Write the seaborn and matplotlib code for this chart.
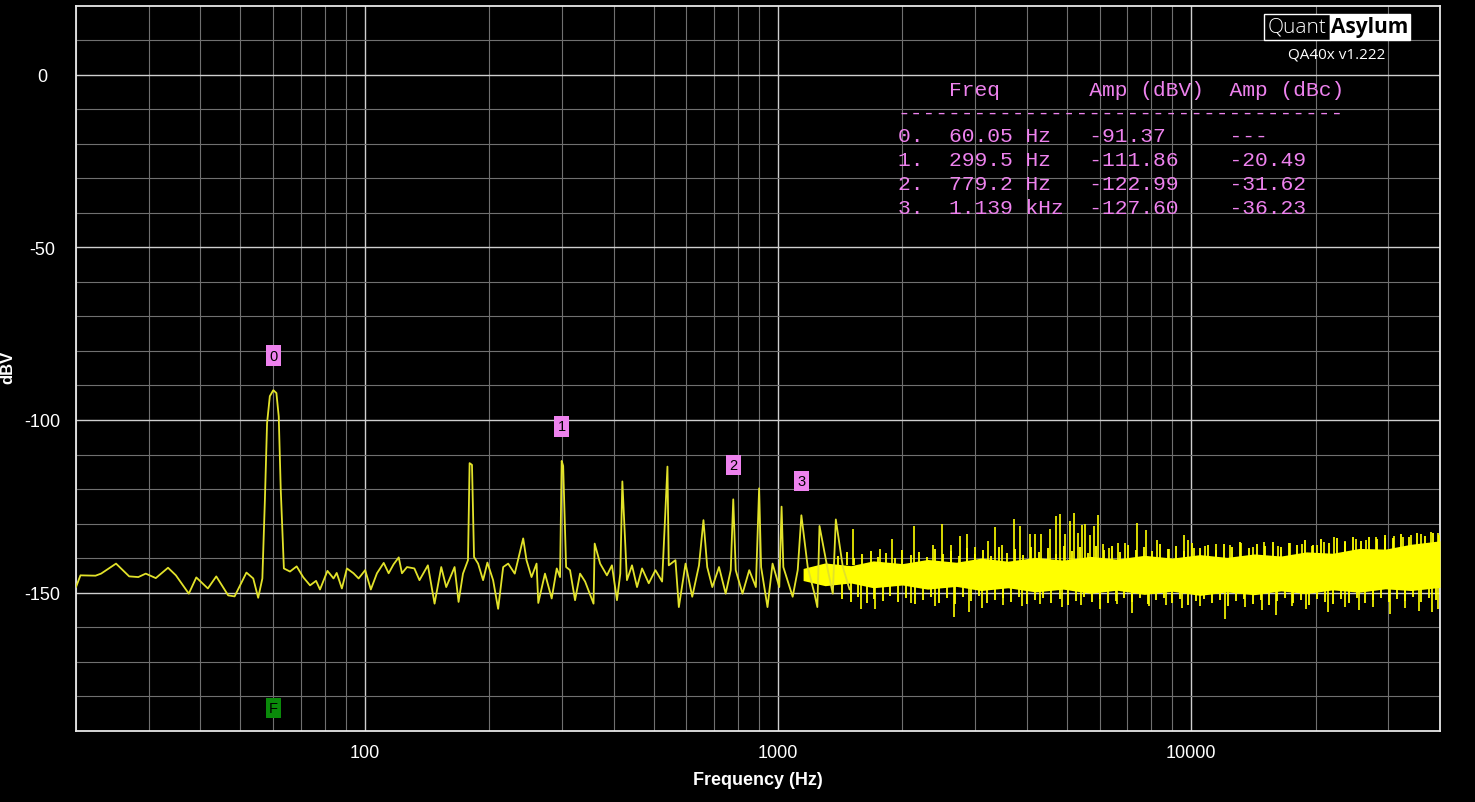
import matplotlib
matplotlib.use('Agg')
import matplotlib.pyplot as plt
from matplotlib.patches import Rectangle
import seaborn as sns

# ---- spectrum trace (Hz, dBV) ----
trace_freq = [20.0, 20.5, 22.3, 23.0, 25.0, 26.9, 28.3, 29.5, 31.2, 33.4, 34.9,
              37.5, 39.1, 41.7, 43.7, 46.7, 48.4, 51.7, 53.7, 55.2, 56.5, 57.3,
              58.0, 58.9, 60.05, 61.1, 61.9, 62.6, 63.7, 65.9, 68.4, 71.0, 73.7,
              76.2, 77.9, 81.2, 84.0, 85.5, 88.0, 90.5, 93.9, 96.6, 100.2, 103.4,
              107.0, 111.1, 114.2, 117.4, 120.8, 123.0, 126.5, 131.8, 135.6,
              142.1, 147.5, 153.1, 157.4, 164.9, 168.6, 172.8, 177.7, 179.3,
              181.7, 183.8, 188.0, 193.3, 198.0, 204.4, 210.2, 216.2, 222.3,
              230.6, 241.7, 246.2, 253.2, 260.4, 262.9, 272.9, 283.3, 291.4,
              296.8, 299.5, 302.0, 307.0, 313.8, 322.7, 331.8, 341.3, 357.7,
              360.0, 371.1, 385.4, 396.3, 407.6, 415.2, 420.0, 430.9, 443.2,
              455.8, 468.8, 486.6, 505.0, 524.2, 540.0, 544.0, 564.6, 575.4,
              597.3, 620.0, 643.8, 660.0, 674.0, 693.4, 719.8, 747.0, 768.4,
              779.2, 790.0, 820.4, 851.8, 883.8, 900.0, 910.0, 943.0, 970.0,
              1007.0, 1020.0, 1030.0, 1085.0, 1116.0, 1139.0, 1180.0, 1225.0,
              1245.0, 1260.0, 1320.0, 1357.0, 1380.0, 1435.0, 1490.0]
trace_db = [-148.4, -145.0, -145.1, -144.5, -141.6, -145.3, -145.5, -144.5, -145.8,
            -142.8, -145.0, -150.3, -145.6, -148.8, -145.3, -150.8, -151.1, -144.2,
            -145.9, -151.5, -145.9, -123.2, -100.9, -93.1, -91.37, -92.2, -99.0,
            -120.3, -143.0, -143.9, -142.4, -145.6, -147.9, -146.6, -149.1, -143.7,
            -145.9, -144.3, -148.8, -143.0, -144.4, -145.9, -143.5, -149.1, -144.4,
            -141.4, -144.4, -141.8, -139.8, -144.4, -142.6, -143.0, -146.4, -142.1,
            -153.2, -142.6, -148.4, -142.6, -152.7, -144.5, -140.6, -112.5, -113.0,
            -139.7, -141.6, -146.4, -141.3, -146.4, -154.7, -142.6, -141.6, -144.5,
            -134.3, -140.6, -145.5, -141.6, -153.0, -144.5, -151.7, -143.0, -145.5,
            -111.86, -113.3, -142.6, -143.5, -152.2, -144.5, -146.8, -153.2, -135.8,
            -141.6, -145.0, -142.1, -152.2, -144.5, -117.8, -146.4, -142.1, -148.4,
            -143.0, -147.3, -143.5, -146.8, -113.5, -142.1, -140.6, -154.2, -141.6,
            -151.2, -142.1, -129.0, -142.6, -148.4, -142.6, -150.3, -143.5, -122.99,
            -143.5, -150.3, -143.5, -148.4, -119.8, -142.6, -154.2, -141.6, -148.4,
            -125.1, -142.6, -151.2, -143.5, -127.6, -142.6, -150.3, -154.2, -130.7,
            -143.5, -150.3, -128.8, -142.6, -149.1]

# dense noise floor above ~1 kHz: solid core (lower / upper edge)
band_freq = [1150, 1300, 1500, 1700, 2000, 2300, 2700, 3100, 3600, 4200, 4900,
             5700, 6600, 7700, 9000, 10500, 12200, 14200, 16500, 19000, 22000,
             25500, 29500, 34000, 40000]
band_hi = [-143.0, -141.4, -142.2, -140.8, -141.6, -140.4, -141.2, -140.0, -140.9,
           -139.8, -140.6, -139.5, -140.3, -139.2, -140.0, -139.0, -139.8, -138.8,
           -139.4, -138.2, -138.6, -137.2, -137.4, -136.0, -135.0]
band_lo = [-146.5, -148.0, -147.2, -148.6, -147.8, -149.0, -148.2, -149.4, -148.6,
           -149.8, -149.0, -150.2, -149.3, -150.5, -149.6, -150.8, -149.8, -150.6,
           -149.5, -150.3, -149.2, -149.9, -148.9, -149.4, -148.5]

# ragged top of the noise floor
fuzz_up_freq = [1400, 1465, 1530, 1600, 1675, 1750, 1830, 1915, 2000, 2095, 2190,
                2290, 2395, 2505, 2620, 2740, 2865, 3000, 3135, 3280, 3430, 3585,
                3750, 3925, 4100, 4290, 4490, 4695, 4910, 5135, 5370, 5615, 5875,
                6140, 6425, 6720, 7025, 7350, 7685, 8040, 8405, 8790, 9195, 9615,
                10055, 10515, 11000, 11500, 12030, 12580, 13155, 13760, 14390,
                15050, 15740, 16460, 17210, 18000, 18825, 19690, 20590, 21530,
                22520, 23550, 24630, 25760, 26940, 28170, 29460, 30810, 32220,
                33700, 35240, 36860, 38550, 39800]
fuzz_up_db = [-139.5, -138.2, -140.1, -138.8, -137.9, -139.6, -138.4, -140.0,
              -137.6, -139.2, -138.1, -139.8, -137.4, -138.9, -138.0, -139.5,
              -137.2, -138.7, -137.8, -139.3, -136.9, -138.4, -137.5, -139.0,
              -136.8, -138.2, -137.1, -138.8, -136.5, -137.9, -136.9, -138.5,
              -136.6, -137.8, -136.4, -138.1, -136.2, -137.6, -136.8, -138.0,
              -135.9, -137.3, -136.4, -137.9, -135.6, -137.0, -136.1, -137.6,
              -135.8, -136.9, -135.4, -137.2, -135.9, -136.6, -135.2, -136.8,
              -135.5, -136.3, -134.9, -136.1, -134.6, -135.7, -134.3, -135.4,
              -134.0, -135.1, -133.8, -134.6, -133.4, -134.2, -133.1, -133.9,
              -132.8, -133.5, -132.6, -133.2]

# ragged bottom of the noise floor
fuzz_dn_freq = [1430, 1500, 1565, 1640, 1710, 1790, 1870, 1955, 2045, 2140, 2240,
                2340, 2450, 2560, 2680, 2800, 2930, 3065, 3205, 3355, 3505, 3665,
                3835, 4010, 4195, 4385, 4590, 4800, 5020, 5250, 5490, 5745, 6005,
                6280, 6570, 6870, 7185, 7515, 7860, 8220, 8595, 8990, 9400, 9830,
                10280, 10750, 11245, 11760, 12300, 12865, 13455, 14070, 14715,
                15390, 16095, 16830, 17600, 18410, 19255, 20135, 21060, 22025,
                23030, 24085, 25190, 26345, 27550, 28810, 30130, 31510, 32950,
                34460, 36040, 37690, 39200]
fuzz_dn_db = [-151.8, -152.6, -151.2, -153.1, -151.9, -152.4, -150.9, -152.8,
              -151.5, -153.4, -152.0, -151.3, -152.9, -151.7, -153.2, -151.4,
              -152.5, -151.1, -153.0, -152.2, -151.6, -152.7, -151.3, -153.3,
              -152.1, -151.5, -152.9, -151.8, -153.5, -152.3, -151.4, -152.6,
              -151.9, -153.1, -152.4, -151.6, -152.8, -151.7, -153.4, -152.2,
              -151.5, -152.9, -151.8, -153.6, -152.3, -151.9, -153.0, -152.1,
              -153.8, -152.5, -151.8, -153.2, -152.0, -153.6, -152.4, -151.7,
              -153.1, -152.2, -153.5, -151.9, -152.6, -153.3, -151.8, -152.9,
              -151.6, -153.0, -152.2, -151.5, -152.8, -151.9, -152.4, -151.3,
              -152.7, -151.6, -152.1]

# spurs sticking out above the noise floor
spur_freq = [1517, 1764, 1884, 2138, 2378, 2496, 2622, 2751, 2868, 2992, 3225,
             3356, 3479, 3716, 3852, 4078, 4198, 4320, 4556, 4698, 4826, 4954,
             5078, 5190, 5308, 5426, 5546, 5684, 5810, 5942, 6114, 6320, 6634,
             6902, 7380, 7762, 8246, 8846, 9580, 9836, 10170, 10800, 11500, 12400,
             13200, 14100, 15000, 16200, 17300, 18500, 19600, 20100, 21000, 22200,
             23500, 25000, 26500, 28000, 29500, 31000, 32500, 34000, 36000, 38000,
             39500]
spur_db = [-131.7, -137.5, -134.6, -130.7, -136.2, -130.0, -136.2, -133.6, -133.0,
           -136.7, -135.1, -130.9, -136.2, -128.8, -130.7, -132.9, -133.0, -132.9,
           -131.7, -127.8, -127.2, -132.9, -129.4, -126.8, -132.7, -130.4, -130.2,
           -133.3, -130.7, -127.6, -135.9, -137.2, -135.5, -135.5, -129.7, -131.9,
           -134.8, -137.5, -133.3, -134.8, -137.2, -136.5, -135.8, -136.2, -135.5,
           -136.8, -135.2, -136.5, -135.6, -135.9, -136.4, -136.2, -135.3, -133.8,
           -135.0, -134.6, -134.9, -133.8, -134.3, -133.6, -133.9, -133.2, -133.0,
           -132.4, -132.8]

# deep dips below the noise floor
dip_freq = [1585, 1713, 2100, 2400, 2666, 2900, 3114, 3500, 3900, 4300, 4870,
            5400, 6000, 6600, 7188, 7900, 8700, 9500, 10500, 12060, 13500, 14800,
            16010, 17500, 19000, 21440, 23500, 25500, 27500, 30280, 33000, 35500,
            38360, 39600]
dip_db = [-154.7, -154.7, -153.0, -153.8, -157.1, -155.6, -154.5, -153.5, -154.0,
          -153.2, -154.2, -153.5, -154.8, -153.4, -155.9, -154.0, -153.6, -154.5,
          -153.8, -157.6, -154.2, -155.0, -156.6, -154.0, -154.8, -155.6, -154.3,
          -155.0, -154.2, -156.1, -154.5, -155.2, -155.6, -154.8]

# harmonic markers
marker_id = ['0', '1', '2', '3']
marker_freq = [60.05, 299.5, 779.2, 1139.0]
marker_db = [-91.37, -111.86, -122.99, -127.60]
marker_dbc = ['---', '-20.49', '-31.62', '-36.23']
marker_label = ['60.05 Hz ', '299.5 Hz ', '779.2 Hz ', '1.139 kHz']

sns.set_theme(style='dark', rc={
    'figure.facecolor': 'black', 'axes.facecolor': 'black',
    'axes.edgecolor': '#e8e8e8', 'text.color': 'white',
    'xtick.color': 'white', 'ytick.color': 'white', 'axes.labelcolor': 'white'})
plt.rcParams['font.family'] = ['Liberation Sans', 'DejaVu Sans']

W, H = 1475, 803
fig = plt.figure(figsize=(W / 100, H / 100), dpi=100)
ax = fig.add_axes([76 / W, 1 - 731.7 / H, (1440 - 76) / W, (731.7 - 6.7) / H])
ax.set_xscale('log')
ax.set_xlim(20, 40000)
ax.set_ylim(-190, 20)

yel = '#ffff00'
ax.fill_between(band_freq, band_lo, band_hi, color=yel, lw=0, zorder=3)
ax.vlines(fuzz_up_freq, -142, fuzz_up_db, color=yel, lw=1.3, zorder=3)
ax.vlines(fuzz_dn_freq, fuzz_dn_db, -146, color=yel, lw=1.3, zorder=3)
ax.vlines(spur_freq, -142, spur_db, color=yel, lw=1.2, zorder=3)
ax.vlines(dip_freq, dip_db, -146, color=yel, lw=1.2, zorder=3)
sns.lineplot(x=trace_freq, y=trace_db, ax=ax, sort=False, estimator=None,
             color='#e2e22a', lw=1.3, zorder=4)

# grid / ticks
ax.set_xticks([100, 1000, 10000], labels=['100', '1000', '10000'])
ax.set_xticks([20, 30, 40, 50, 60, 70, 80, 90, 200, 300, 400, 500, 600, 700, 800,
               900, 2000, 3000, 4000, 5000, 6000, 7000, 8000, 9000, 20000, 30000],
              minor=True)
ax.set_yticks([-150, -100, -50, 0], labels=['-150', '-100', '-50', '0'])
ax.set_yticks(range(-180, 20, 10), minor=True)
ax.xaxis.set_minor_formatter(plt.NullFormatter())
ax.yaxis.set_minor_formatter(plt.NullFormatter())
ax.grid(which='major', color='#cfcfcf', lw=1.0)
ax.grid(which='minor', color='#707070', lw=0.8)
ax.set_axisbelow(True)
ax.tick_params(which='major', direction='inout', length=7, width=1, color='#e8e8e8',
               labelsize=13)
ax.tick_params(which='minor', direction='out', length=3, width=1, color='#e8e8e8')
ax.tick_params(axis='y', which='major', pad=21)
ax.tick_params(axis='x', which='major', pad=6)
for t in ax.get_yticklabels():
    t.set_ha('center')
for s in ax.spines.values():
    s.set_visible(True)
    s.set_color('#e8e8e8')
    s.set_linewidth(1.3)

ax.set_xlabel('Frequency (Hz)', fontsize=13, fontweight='bold')
ax.xaxis.set_label_coords(0.5, (731.7 - 781) / 725)
ax.xaxis.label.set_va('center')
fig.text(8 / W, 1 - 367 / H, 'dBV', rotation=90, ha='center', va='center',
         fontsize=12, fontweight='bold')

# marker tags
for mid, f, db in zip(marker_id, marker_freq, marker_db):
    ax.text(f, db + 10, mid, ha='center', va='center', fontsize=10.5, color='black',
            bbox=dict(boxstyle='square,pad=0.22', fc='#ee82ee', ec='none'), zorder=5)
ax.text(marker_freq[0], -183.5, 'F', ha='center', va='center', fontsize=10.5,
        color='black', bbox=dict(boxstyle='square,pad=0.22', fc='#0a8a0a', ec='none'),
        zorder=5)

# harmonic table
rows = ['    Freq       Amp (dBV)  Amp (dBc)', '-' * 35]
for mid, lab, db, dbc in zip(marker_id, marker_label, marker_db, marker_dbc):
    rows.append(f'{mid}.  {lab}  {db:<10.2f} {dbc}')
row_y = [91, 113, 137, 161, 185, 209]
for txt, y in zip(rows, row_y):
    fig.text(898 / W, 1 - y / H, txt, ha='left', va='center', color='#ee82ee',
             fontsize=15.3, family='Liberation Mono')

# QuantAsylum badge
fig.patches.append(Rectangle((1264 / W, 1 - 41 / H), 66 / W, 26 / H,
                             transform=fig.transFigure, fc='black', ec='white', lw=1))
fig.patches.append(Rectangle((1330 / W, 1 - 41 / H), 80 / W, 26 / H,
                             transform=fig.transFigure, fc='white', ec='white', lw=1))
fig.text(1297 / W, 1 - 28 / H, 'Quant', ha='center', va='center', fontsize=15,
         color='white', family=['Open Sans', 'DejaVu Sans'], fontweight='light')
fig.text(1370 / W, 1 - 28 / H, 'Asylum', ha='center', va='center', fontsize=15,
         color='black', family=['Open Sans', 'DejaVu Sans'], fontweight='bold')
fig.text(1337 / W, 1 - 55 / H, 'QA40x v1.222', ha='center', va='center', fontsize=11,
         color='white', family=['Open Sans', 'DejaVu Sans'])

fig.savefig('out.png', dpi=100, facecolor='black')
